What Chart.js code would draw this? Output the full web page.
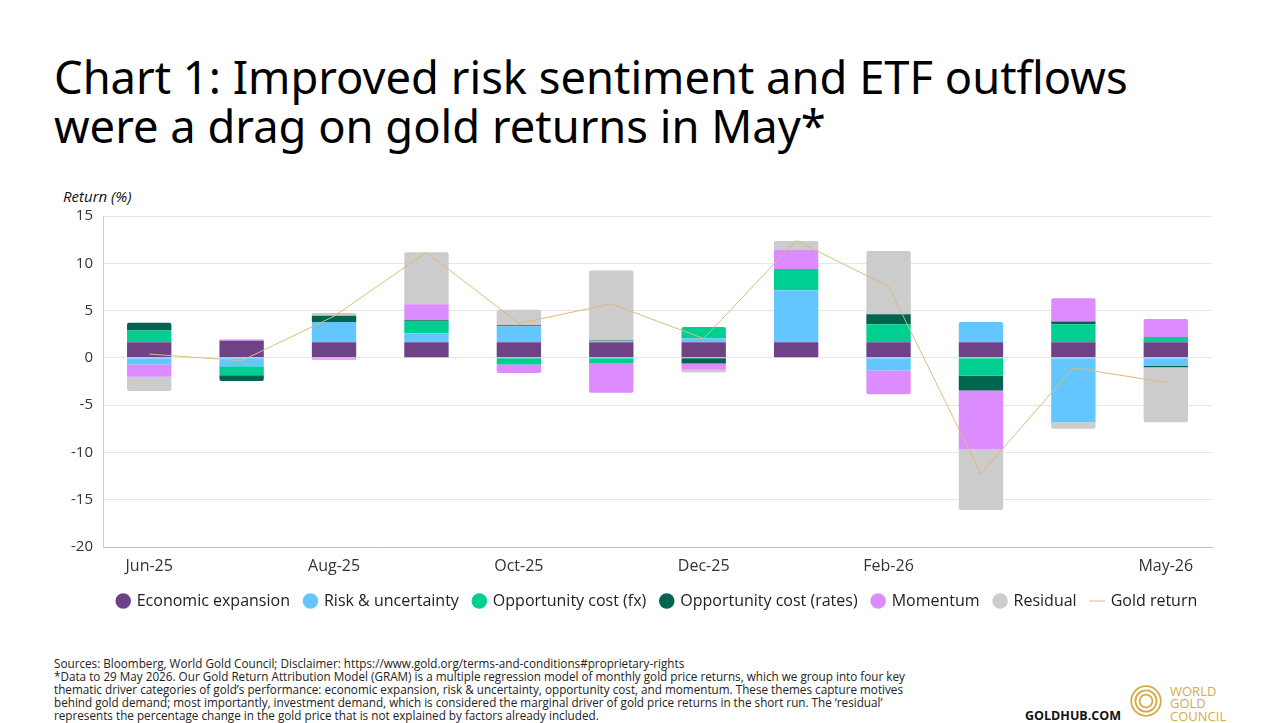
<!DOCTYPE html>
<html>
<head>
<meta charset="utf-8">
<script src="https://cdn.jsdelivr.net/npm/chart.js@4"></script>
<style>
  body { margin: 0; width: 1282px; height: 723px; background: #fff; font-family: 'Open Sans', sans-serif; overflow: hidden; position: relative; }
  .title { position: absolute; left: 54px; top: 52px; font-family: 'Noto Sans', sans-serif; font-size: 45.3px; line-height: 49px; color: #000; white-space: nowrap; }
  .ylab { position: absolute; left: 63px; top: 186px; font-size: 15px; font-style: italic; color: #111; }
  .chart-box { position: absolute; left: 0; top: 170px; width: 1282px; height: 449px; }
  .notes { position: absolute; left: 54px; top: 657px; font-size: 12px; line-height: 13px; color: #222; white-space: nowrap; transform: scaleX(0.975); transform-origin: left top; }
  .hub { position: absolute; left: 1025px; top: 707px; font-size: 12.5px; font-weight: bold; color: #111; }
  .logo { position: absolute; left: 1126px; top: 682px; }
</style>
</head>
<body>
<div class="title">Chart 1: Improved risk sentiment and ETF outflows<br>were a drag on gold returns in May*</div>
<div class="ylab">Return (%)</div>
<div class="chart-box"><canvas id="chart"></canvas></div>
<div class="notes">Sources: Bloomberg, World Gold Council; Disclaimer: https://www.gold.org/terms-and-conditions#proprietary-rights<br>*Data to 29 May 2026. Our Gold Return Attribution Model (GRAM) is a multiple regression model of monthly gold price returns, which we group into four key<br>thematic driver categories of gold’s performance: economic expansion, risk &amp; uncertainty, opportunity cost, and momentum. These themes capture motives<br>behind gold demand; most importantly, investment demand, which is considered the marginal driver of gold price returns in the short run. The ‘residual’<br>represents the percentage change in the gold price that is not explained by factors already included.</div>
<div class="hub">GOLDHUB.COM</div>
<svg class="logo" width="100" height="41" viewBox="0 0 100 41">
  <g fill="none" stroke="#D7AA47" stroke-width="1.8">
    <circle cx="20" cy="19" r="14.8"/>
    <circle cx="20" cy="19" r="10.6"/>
    <circle cx="20" cy="19" r="6.4"/>
  </g>
  <g fill="#D7AA47" font-family="Open Sans" font-size="13">
    <text x="44" y="13.5">WORLD</text>
    <text x="44" y="26">GOLD</text>
    <text x="44" y="38.5">COUNCIL</text>
  </g>
</svg>
<script>
const categories = ['Jun-25', 'Jul-25', 'Aug-25', 'Sep-25', 'Oct-25', 'Nov-25', 'Dec-25', 'Jan-26', 'Feb-26', 'Mar-26', 'Apr-26', 'May-26'];
const shownTicks = ['Jun-25', 'Aug-25', 'Oct-25', 'Dec-25', 'Feb-26', 'May-26'];
const yTicks = [15, 10, 5, 0, -5, -10, -15, -20];

const economicExpansion = [1.65, 1.8, 1.65, 1.65, 1.65, 1.65, 1.65, 1.65, 1.65, 1.65, 1.65, 1.65];
const riskUncertainty = [-0.7, -0.9, 2.15, 0.95, 1.7, 0.1, 0.4, 5.5, -1.35, 2.15, -6.8, -0.85];
const oppCostFx = [1.25, -0.95, 0, 1.3, -0.7, -0.6, 1.2, 2.25, 1.9, -1.9, 1.9, 0.55];
const oppCostRates = [0.8, -0.6, 0.65, 0.08, 0.1, 0.08, -0.6, 0, 1.05, -1.55, 0.3, -0.15];
const momentum = [-1.3, 0.15, -0.2, 1.7, -0.9, -3.1, -0.65, 2.0, -2.5, -6.25, 2.45, 1.9];
const residual = [-1.5, 0, 0.3, 5.5, 1.65, 7.4, -0.3, 0.95, 6.7, -6.4, -0.7, -5.8];
const goldReturn = [0.4, -0.3, 4.4, 11.15, 3.65, 5.7, 2.05, 12.4, 7.55, -12.25, -1.05, -2.6];

Chart.defaults.font.family = "'Open Sans', sans-serif";
Chart.defaults.color = '#333';

function barSet(label, data, color) {
    return {
        type: 'bar',
        label: label,
        data: data,
        backgroundColor: color,
        borderWidth: 0,
        borderRadius: 2,
        categoryPercentage: 0.8,
        barPercentage: 0.6,
        stack: 'gram',
        pointStyle: 'circle',
        order: 1
    };
}

// centre the legend under the plot area rather than the whole canvas
const legendShift = {
    id: 'legendShift',
    afterLayout(chart) {
        const lg = chart.legend;
        const area = chart.chartArea;
        const dx = (area.left + area.right) / 2 - (lg.left + lg.right) / 2;
        lg.left += dx;
        lg.right += dx;
    }
};

const ctx = document.getElementById('chart').getContext('2d');
const chart = new Chart(ctx, {
    data: {
        labels: categories,
        datasets: [
            barSet('Economic expansion', economicExpansion, '#6F4187'),
            barSet('Risk & uncertainty', riskUncertainty, '#64C6FF'),
            barSet('Opportunity cost (fx)', oppCostFx, '#00CF91'),
            barSet('Opportunity cost (rates)', oppCostRates, '#00644F'),
            barSet('Momentum', momentum, '#DD8CFF'),
            barSet('Residual', residual, '#CCCCCC'),
            {
                type: 'line',
                label: 'Gold return',
                data: goldReturn,
                borderColor: '#DDBB77',
                backgroundColor: '#DDBB77',
                borderWidth: 1,
                pointRadius: 0,
                tension: 0,
                stack: 'gold',
                pointStyle: 'line',
                order: 0
            }
        ]
    },
    plugins: [legendShift],
    options: {
        responsive: true,
        maintainAspectRatio: false,
        animation: false,
        layout: { padding: { left: 0, right: 70, top: 46, bottom: 0 } },
        plugins: {
            legend: {
                position: 'bottom',
                labels: {
                    usePointStyle: true,
                    boxWidth: 11,
                    boxHeight: 11,
                    padding: 15,
                    color: '#222',
                    font: { size: 16 },
                    sort: (a, b) => a.datasetIndex - b.datasetIndex
                }
            },
            tooltip: { enabled: false }
        },
        scales: {
            x: {
                stacked: true,
                offset: true,
                grid: { display: false, drawTicks: false },
                border: { color: '#BBBBBB' },
                ticks: {
                    autoSkip: false,
                    maxRotation: 0,
                    padding: 10,
                    color: '#333',
                    font: { size: 16 },
                    callback: function (value, index) {
                        return shownTicks.includes(categories[index]) ? categories[index] : '';
                    }
                },
                afterFit: (scale) => { scale.height = 31; }
            },
            y: {
                stacked: true,
                min: -20,
                max: 15,
                grid: { color: '#E6E6E6', drawTicks: false },
                border: { color: '#CCCCCC' },
                afterBuildTicks: (scale) => { scale.ticks = yTicks.map(v => ({ value: v })); },
                ticks: { padding: 10, color: '#333', font: { size: 15 } },
                afterFit: (scale) => { scale.width = 103; }
            }
        }
    }
});
</script>
</body>
</html>
